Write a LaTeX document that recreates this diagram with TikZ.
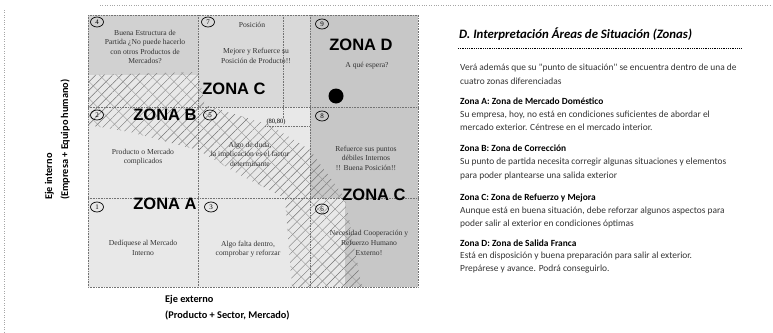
\documentclass[tikz,border=0pt]{standalone}
\usepackage{fontspec}
\setmainfont{Liberation Serif}
\newfontfamily\calfont{Carlito}
\newfontfamily\zfont{Liberation Sans}
\usetikzlibrary{patterns.meta,shapes.geometric}
\begin{document}
\begin{tikzpicture}[x=1pt,y=-1pt,
  gridline/.style={densely dotted, black!55, line width=0.6pt},
  celltext/.style={font=\fontsize{7.6}{9.6}\selectfont, align=center, text=black!80, inner sep=0pt},
  zona/.style={font=\zfont\bfseries\fontsize{16.5}{16.5}\selectfont, inner sep=0pt},
  num/.style={draw, ellipse, line width=0.7pt, inner sep=0pt, minimum width=13pt, minimum height=10pt, font=\fontsize{7}{7}\selectfont},
  body/.style={font=\calfont\fontsize{9.4}{11}\selectfont, anchor=base west, inner sep=0pt, text=black!80},
  head/.style={font=\calfont\bfseries\fontsize{9.4}{11}\selectfont, anchor=base west, inner sep=0pt},
  axis/.style={font=\calfont\bfseries\fontsize{10.3}{12}\selectfont, anchor=base west, inner sep=0pt}]
\useasboundingbox (0,0) rectangle (773,332);
% faint scan margins
\draw[black!35, dotted] (100,5) -- (770,5);
\draw[black!35, dotted] (4,10) -- (4,332);
% shaded backgrounds
\fill[black!9] (88,15) rectangle (418,287);
\fill[black!18] (88,15) rectangle (198,75);
\fill[black!15] (198,15) rectangle (310,107);
\fill[black!22] (310,15) rectangle (418,198);
\fill[black!22] (345,198) rectangle (418,287);
% hatched band
\path[pattern={Lines[angle=45,distance=6pt,line width=0.45pt]}, pattern color=black!55]
  (88,75) -- (198,72) -- (205,105) -- (270,125) -- (310,150) -- (345,198) -- (362,287)
  -- (292,287) -- (285,198) -- (240,175) -- (198,150) -- (130,132) -- (88,125) -- cycle;
\path[pattern={Lines[angle=-45,distance=12pt,line width=0.35pt]}, pattern color=black!40]
  (88,75) -- (198,72) -- (205,105) -- (270,125) -- (310,150) -- (345,198) -- (362,287)
  -- (292,287) -- (285,198) -- (240,175) -- (198,150) -- (130,132) -- (88,125) -- cycle;
% grid
\draw[gridline] (88,15) rectangle (418,287);
\draw[gridline] (198,15) -- (198,287);
\draw[gridline] (310,15) -- (310,287);
\draw[gridline] (88,107) -- (418,107);
\draw[gridline] (88,198) -- (418,198);
% (80,80) marker
\node[font=\fontsize{6.5}{6.5}\selectfont, inner sep=1pt] (pt) at (276,122) {(80,80)};
\draw[gridline] (283,15) -- (pt.north -| 283,0);
\draw[gridline] (pt.south west) -- (pt.south east -| 310,0);
% point
\fill[black] (336,96) circle (7.5);
% cell numbers
\node[num] (n4) at (97,22) {4};
\node[num] (n7) at (208,22) {7};
\node[num] (n9) at (322,24) {9};
\node[num] (n2) at (97,115) {2};
\node[num] (n5) at (210,115) {5};
\node[num] (n8) at (322,116) {8};
\node[num] (n1) at (97,207) {1};
\node[num] (n3) at (211,207) {3};
\node[num] (n6) at (322,209) {6};
% zone labels
\node[zona] (zd) at (361,45) {ZONA D};
\node[zona] (zc1) at (234,89) {ZONA C};
\node[zona] (zb) at (165,115) {ZONA B};
\node[zona] (za) at (165,204) {ZONA A};
\node[zona] (zc2) at (374,195) {ZONA C};
% cell texts
\node[celltext] (c4) at (145,47) {Buena Estructura de\\Partida ¿No puede hacerlo\\con otros Productos de\\Mercados?};
\node[celltext] (c7a) at (252,25) {Posición};
\node[celltext] (c7b) at (256,56) {Mejore y Refuerce su\\Posición de Producto!!};
\node[celltext] (c9) at (367,66) {A qué espera?};
\node[celltext] (c2) at (143,157) {Producto o Mercado\\complicados};
\node[celltext] (c5) at (250,154) {Algo de duda,\\la implicación es el factor\\determinante};
\node[celltext] (c8) at (366,158) {Refuerce sus puntos\\débiles Internos\\!! Buena Posición!!};
\node[celltext] (c1) at (143,248) {Dedíquese al Mercado\\Interno};
\node[celltext] (c3) at (248,249) {Algo falta dentro,\\comprobar y reforzar};
\node[celltext] (c6) at (369,243) {Necesidad Cooperación y\\Refuerzo Humano\\Externo!};
% axis labels
\node[axis] (ax1) at (165,302) {Eje externo};
\node[axis] (ax2) at (165,318) {(Producto + Sector, Mercado)};
\node[axis, rotate=90] (ay1) at (52,200) {Eje interno};
\node[axis, rotate=90] (ay2) at (68,200) {(Empresa + Equipo humano)};
% right text
\node[font=\calfont\bfseries\itshape\fontsize{12.8}{14}\selectfont, anchor=base west, inner sep=0pt] (title) at (459,38) {D. Interpretación Áreas de Situación (Zonas)};
\draw[densely dotted, line width=0.8pt] (458,48) -- (742,48);
\node[body] (t1) at (460,70) {Verá además que su "punto de situación" se encuentra dentro de una de};
\node[body] (t2) at (460,84) {cuatro zonas diferenciadas};
\node[head] (h1) at (460,104) {Zona A: Zona de Mercado Doméstico};
\node[body] (t3) at (460,117) {Su empresa, hoy, no está en condiciones suficientes de abordar el};
\node[body] (t4) at (460,130) {mercado exterior. Céntrese en el mercado interior.};
\node[head] (h2) at (460,151) {Zona B: Zona de Corrección};
\node[body] (t5) at (460,164) {Su punto de partida necesita corregir algunas situaciones y elementos};
\node[body] (t6) at (460,178) {para poder plantearse una salida exterior};
\node[head] (h3) at (460,200) {Zona C: Zona de Refuerzo y Mejora};
\node[body] (t7) at (460,213) {Aunque está en buena situación, debe reforzar algunos aspectos para};
\node[body] (t8) at (460,226) {poder salir al exterior en condiciones óptimas};
\node[head] (h4) at (460,246) {Zona D: Zona de Salida Franca};
\node[body] (t9) at (460,258) {Está en disposición y buena preparación para salir al exterior.};
\node[body] (t10) at (460,271) {Prepárese y avance. Podrá conseguirlo.};
\end{tikzpicture}
\end{document}
